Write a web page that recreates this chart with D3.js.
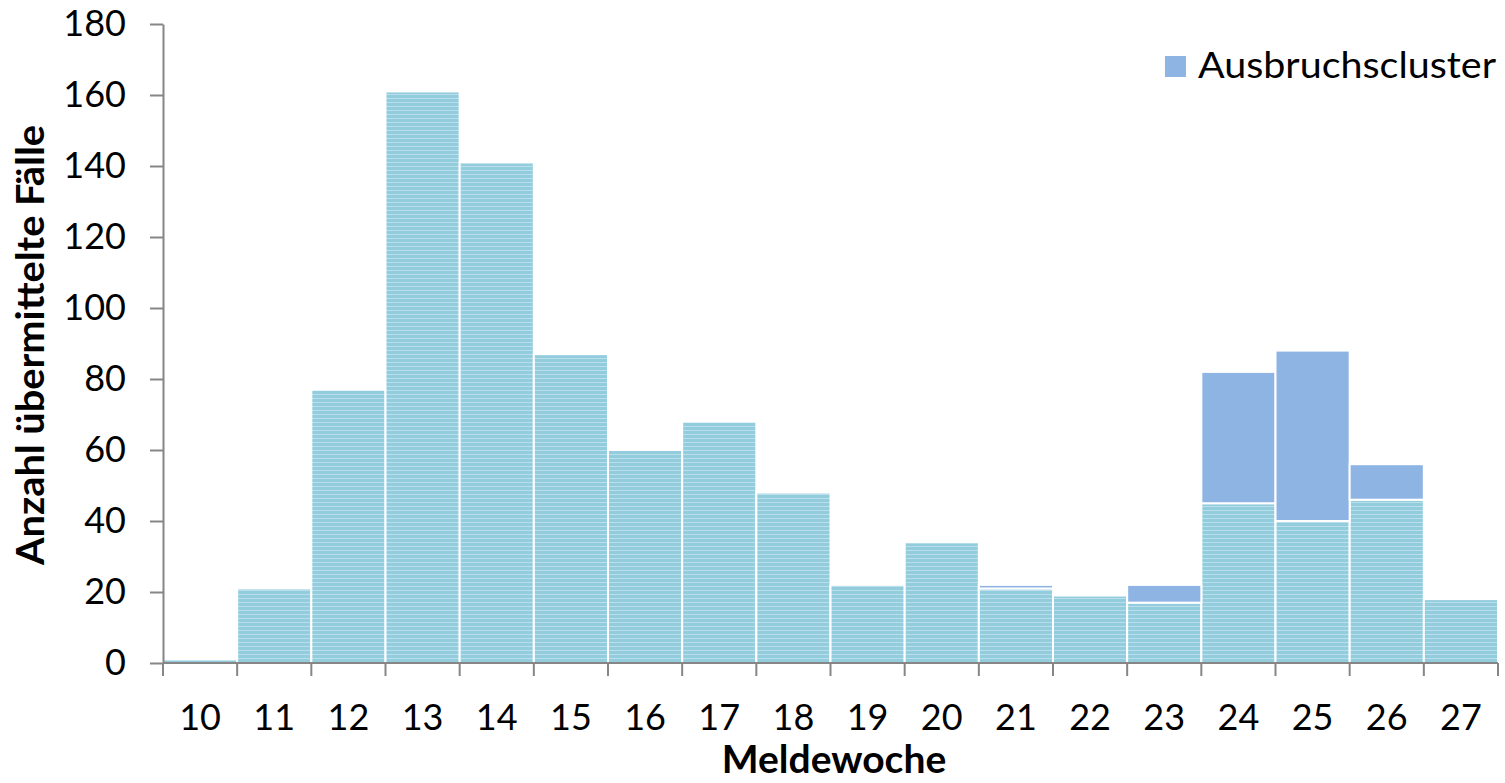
<!DOCTYPE html>
<html>
<head>
<meta charset="utf-8">
<script src="https://cdn.jsdelivr.net/npm/d3@7"></script>
<style>
  body { margin: 0; background: #fff; }
  svg text { font-family: Lato, "Open Sans", sans-serif; fill: #000; }
</style>
</head>
<body>
<svg id="chart"></svg>
<script>
// Meldewoche categories and stacked series
const weeks = ['10','11','12','13','14','15','16','17','18','19','20','21','22','23','24','25','26','27'];
const baseCases = [1, 21, 77, 161, 141, 87, 60, 68, 48, 22, 34, 21, 19, 17, 45, 40, 46, 18];
const clusterCases = [0, 0, 0, 0, 0, 0, 0, 0, 0, 0, 0, 1, 0, 5, 37, 48, 10, 0];
const yTicks = [0, 20, 40, 60, 80, 100, 120, 140, 160, 180];

const config = {
  width: 1505, height: 783,
  margin: {top: 24, right: 7, bottom: 120, left: 163}
};
const innerW = config.width - config.margin.left - config.margin.right;
const innerH = config.height - config.margin.top - config.margin.bottom;

const svg = d3.select('#chart')
    .attr('width', config.width)
    .attr('height', config.height);

// striped fill for the regular cases
const defs = svg.append('defs');
const pat = defs.append('pattern')
    .attr('id', 'stripes')
    .attr('patternUnits', 'userSpaceOnUse')
    .attr('width', 8).attr('height', 4);
pat.append('rect').attr('width', 8).attr('height', 4).attr('fill', '#93CDDD');
pat.append('rect').attr('y', 2).attr('width', 8).attr('height', 1).attr('fill', '#B9DFEA');

const chart = svg.append('g')
    .attr('transform', `translate(${config.margin.left},${config.margin.top})`);

const xScale = d3.scaleBand().domain(weeks).range([0, innerW]).padding(0);
const yScale = d3.scaleLinear().domain([0, 180]).range([innerH, 0]);

const rows = weeks.map((w, i) => ({week: w, base: baseCases[i], cluster: clusterCases[i]}));

// bottom series
chart.selectAll('.bar-base')
    .data(rows)
  .join('rect')
    .attr('class', 'bar-base')
    .attr('x', d => xScale(d.week))
    .attr('width', xScale.bandwidth())
    .attr('y', d => yScale(d.base))
    .attr('height', d => innerH - yScale(d.base))
    .attr('fill', 'url(#stripes)')
    .attr('stroke', '#fff')
    .attr('stroke-width', 2);

// Ausbruchscluster on top
chart.selectAll('.bar-cluster')
    .data(rows.filter(d => d.cluster > 0))
  .join('rect')
    .attr('class', 'bar-cluster')
    .attr('x', d => xScale(d.week))
    .attr('width', xScale.bandwidth())
    .attr('y', d => yScale(d.base + d.cluster))
    .attr('height', d => yScale(d.base) - yScale(d.base + d.cluster))
    .attr('fill', '#8EB4E3')
    .attr('stroke', '#fff')
    .attr('stroke-width', 2);

// y axis
const yAxis = d3.axisLeft(yScale).tickValues(yTicks).tickSize(13).tickSizeOuter(0).tickPadding(24);
const yAxisG = chart.append('g').call(yAxis);
yAxisG.select('.domain').attr('stroke', '#868686').attr('stroke-width', 2);
yAxisG.selectAll('.tick line').attr('stroke', '#868686').attr('stroke-width', 2);
yAxisG.selectAll('.tick text').style('font-size', '36px');

// x axis: ticks between categories
const xAxisG = chart.append('g').attr('transform', `translate(0,${innerH})`);
xAxisG.append('line')
    .attr('x1', 0).attr('x2', innerW)
    .attr('stroke', '#868686').attr('stroke-width', 2);
const bounds = weeks.map(w => xScale(w)).concat([innerW]);
xAxisG.selectAll('.xtick')
    .data(bounds)
  .join('line')
    .attr('class', 'xtick')
    .attr('x1', d => d).attr('x2', d => d)
    .attr('y1', 0).attr('y2', 13)
    .attr('stroke', '#868686').attr('stroke-width', 2);
xAxisG.selectAll('.xlabel')
    .data(weeks)
  .join('text')
    .attr('class', 'xlabel')
    .attr('x', d => xScale(d) + xScale.bandwidth() / 2)
    .attr('y', 67)
    .attr('text-anchor', 'middle')
    .style('font-size', '36px')
    .text(d => d);

// axis titles
svg.append('text')
    .attr('x', 834)
    .attr('y', 773)
    .attr('text-anchor', 'middle')
    .style('font-size', '39px')
    .style('font-weight', 'bold')
    .text('Meldewoche');

svg.append('text')
    .attr('transform', 'translate(44,345) rotate(-90)')
    .attr('text-anchor', 'middle')
    .attr('textLength', 440)
    .attr('lengthAdjust', 'spacingAndGlyphs')
    .style('font-size', '39px')
    .style('font-weight', 'bold')
    .text('Anzahl übermittelte Fälle');

// legend
const legend = svg.append('g').attr('transform', 'translate(1165,56)');
legend.append('rect').attr('width', 21).attr('height', 21).attr('fill', '#8EB4E3');
legend.append('text')
    .attr('x', 33).attr('y', 22)
    .attr('textLength', 298)
    .attr('lengthAdjust', 'spacingAndGlyphs')
    .style('font-size', '36px')
    .text('Ausbruchscluster');
</script>
</body>
</html>
